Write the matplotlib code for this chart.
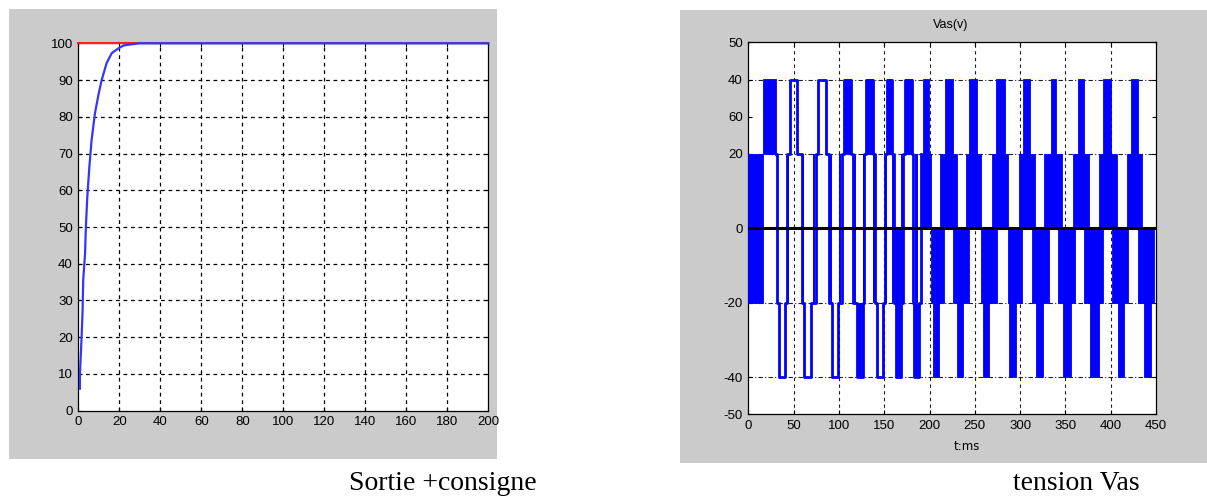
import matplotlib
matplotlib.use("Agg")
import matplotlib.pyplot as plt
from matplotlib.patches import Rectangle

# ---------------- data ----------------
# Speed response (left): output and set-point
resp_t = [0.8, 0.8, 1.6, 2.1, 2.4, 3.3, 3.7, 4.4, 5.4, 6.5, 8.1, 9.8, 11.4,
          13.8, 16.3, 19.5, 22.0, 26.8, 30.0, 200.0]
resp_y = [6.0, 10.0, 20.0, 27.4, 35.6, 42.8, 50.1, 58.3, 66.4, 73.7, 80.9,
          85.9, 90.0, 94.6, 97.3, 98.6, 99.4, 99.8, 100.0, 100.0]
ref_t = [0.0, 200.0]
ref_y = [100.0, 100.0]
left_xticks = list(range(0, 201, 20))
left_yticks = list(range(0, 101, 10))

# Phase voltage Vas (right): switching instants at low speed (step trace)
vas_step_t = [30.2, 31.3, 33.9, 40.5, 42.3, 46.0, 53.4, 59.2, 61.8, 69.2,
              74.7, 77.3, 85.4, 89.4, 92.0, 99.4, 103.0, 105.6, 113.0, 116.0,
              119.6, 126.2, 128.0, 129.9, 138.0, 140.0, 141.7, 148.3, 150.8,
              153.5, 159.0, 161.0, 163.0, 168.5, 171.0, 173.0, 181.0, 182.0,
              183.3, 188.8, 191.0]
vas_step_v = [20, -20, -40, -20, 20, 40, 20, -20, -40, -20,
              20, 40, 20, -20, -40, -20, 20, 40, 20, -20,
              -40, -20, 20, 40, 20, -20, -40, -20, 20,
              40, 20, -20, -40, -20, 20, 40, 20, -20,
              -40, -20, 20]

# Extra short switching strokes (time, from, to)
stroke_t = [44.2, 60.7, 72.8, 90.8, 101.4, 117.6, 127.2, 139.2, 151.6,
            160.2, 169.8, 184.8, 186.6]
stroke_lo = [-20, -20, -20, -20, -20, -20, -20, -20, -20, -20, -20, -20, -20]
stroke_hi = [20, 20, 20, 20, 20, 20, 20, 20, 20, 20, 20, 20, 20]

# PWM chopping bands: start (ms), end (ms), lower level, upper level
band_t0 = [0.0, 15.8, 105.6, 119.6, 129.9, 153.5, 163.0, 162.0, 173.0, 183.3,
           # upper pulses (20..40)
           192.5, 217.1, 243.2, 273.4, 303.6, 334.1, 364.3, 391.9, 422.1,
           # lower pulses (-40..-20)
           204.2, 230.0, 258.7, 287.8, 317.6, 347.0, 377.2, 407.7, 437.2,
           # positive half-waves (0..20)
           191.4, 211.6, 240.0, 268.6, 298.8, 326.8, 358.0, 387.5, 417.7,
           # negative half-waves (-20..0)
           201.3, 225.6, 256.5, 287.0, 313.5, 342.2, 371.0, 401.5, 430.6]
band_t1 = [15.8, 30.2, 113.0, 126.2, 138.0, 159.0, 168.5, 170.0, 181.0, 188.8,
           199.5, 226.3, 252.0, 283.4, 311.0, 339.3, 370.6, 400.0, 430.6,
           210.5, 237.4, 265.7, 296.0, 325.7, 356.2, 387.5, 414.7, 444.2,
           201.3, 230.0, 256.5, 287.0, 316.5, 346.7, 376.5, 406.6, 434.2,
           216.0, 244.0, 274.0, 301.8, 332.0, 360.6, 391.0, 419.5, 448.0]
band_lo = [-20, 20, 20, -40, 20, 20, -40, -20, 20, -40,
           20, 20, 20, 20, 20, 20, 20, 20, 20,
           -40, -40, -40, -40, -40, -40, -40, -40, -40,
           0, 0, 0, 0, 0, 0, 0, 0, 0,
           -20, -20, -20, -20, -20, -20, -20, -20, -20]
band_hi = [20, 40, 40, -20, 40, 40, -20, 0, 40, -20,
           40, 40, 40, 40, 40, 40, 40, 40, 40,
           -20, -20, -20, -20, -20, -20, -20, -20, -20,
           20, 20, 20, 20, 20, 20, 20, 20, 20,
           0, 0, 0, 0, 0, 0, 0, 0, 0]

# Mean (zero) trace
zero_t = [0.0, 448.0]
zero_v = [0.0, 0.0]

right_xticks = list(range(0, 451, 50))
right_yticks = [-50, -40, -20, 0, 20, 30, 40, 50]
right_yticklabels = ["-50", "-40", "-20", "0", "20", "60", "40", "50"]
right_vgrid = list(range(50, 401, 50))
right_hgrid = [-40, -20, 20, 40]

# ---------------- figure ----------------
W, H = 1207, 497
fig = plt.figure(figsize=(W / 100, H / 100), dpi=100)
fig.patch.set_facecolor("white")

gray = "#cbcbcb"
bgL = Rectangle((9 / W, 1 - 459 / H), (497 - 9) / W, (459 - 9) / H,
                transform=fig.transFigure, facecolor=gray, edgecolor="none",
                zorder=-10)
bgR = Rectangle((680 / W, 1 - 463 / H), (1207 - 680) / W, (463 - 10) / H,
                transform=fig.transFigure, facecolor=gray, edgecolor="none",
                zorder=-10)
fig.add_artist(bgL)
fig.add_artist(bgR)

sans = ["Liberation Sans", "DejaVu Sans"]

# ----- left axes -----
axL = fig.add_axes([78.3 / W, 1 - 410.7 / H, 410 / W, 367.4 / H])
axL.set_xlim(0, 200)
axL.set_ylim(0, 100)
axL.set_xticks(left_xticks)
axL.set_yticks(left_yticks)
for v in left_xticks[1:-1]:
    axL.axvline(v, color="black", lw=0.9, ls=(0, (3, 3)), zorder=1)
for v in left_yticks[1:-1]:
    axL.axhline(v, color="black", lw=0.9, ls=(0, (3, 3)), zorder=1)
axL.plot(ref_t, ref_y, color="#ff2020", lw=1.5, zorder=5, clip_on=False)
axL.plot(resp_t, resp_y, color="#3535ff", lw=1.6, zorder=6, clip_on=False)

# ----- right axes -----
axR = fig.add_axes([748.3 / W, 1 - 414.3 / H, 407.7 / W, 372 / H])
axR.set_xlim(0, 450)
axR.set_ylim(-50, 50)
axR.set_xticks(right_xticks)
axR.set_yticks(right_yticks)
axR.set_yticklabels(right_yticklabels)
for v in right_vgrid:
    axR.axvline(v, color="#202020", lw=0.8, ls=(0, (3, 3)), zorder=1)
for v in right_hgrid:
    axR.axhline(v, color="#202020", lw=0.8, ls=(0, (4, 2, 1, 2)), zorder=1)

widths = [b - a for a, b in zip(band_t0, band_t1)]
heights = [h - l for l, h in zip(band_lo, band_hi)]
axR.bar(band_t0, heights, width=widths, bottom=band_lo, align="edge",
        color="#0000ff", edgecolor="#0000ff", linewidth=0.6, zorder=3)
axR.step(vas_step_t, vas_step_v, where="post", color="#0000ff", lw=2.0, zorder=3)
axR.vlines(stroke_t, stroke_lo, stroke_hi, color="#0000ff", lw=1.4, zorder=3)
axR.plot(zero_t, zero_v, color="black", lw=2.2, zorder=5)

for ax in (axL, axR):
    ax.set_facecolor("white")
    for s in ax.spines.values():
        s.set_linewidth(0.9)
        s.set_color("black")
    ax.tick_params(direction="in", length=3, width=0.8, top=True, right=True,
                   pad=4, colors="black")
    for lab in ax.get_xticklabels() + ax.get_yticklabels():
        lab.set_fontfamily(sans)
        lab.set_fontsize(9.5)

fig.text(950.7 / W, 1 - 25 / H, "Vas(v)", ha="center", va="center",
         family=sans, fontsize=9)
fig.text(966.7 / W, 1 - 446.7 / H, "t:ms", ha="center", va="center",
         family=["DejaVu Sans"], fontsize=8.5)

serif = ["Liberation Serif", "DejaVu Serif"]
fig.text(442.5 / W, 1 - 490 / H, "Sortie +consigne", ha="center", va="baseline",
         family=serif, fontsize=20)
fig.text(1076 / W, 1 - 490 / H, "tension Vas", ha="center", va="baseline",
         family=serif, fontsize=20)

fig.savefig("out.png", dpi=100, facecolor="white")
